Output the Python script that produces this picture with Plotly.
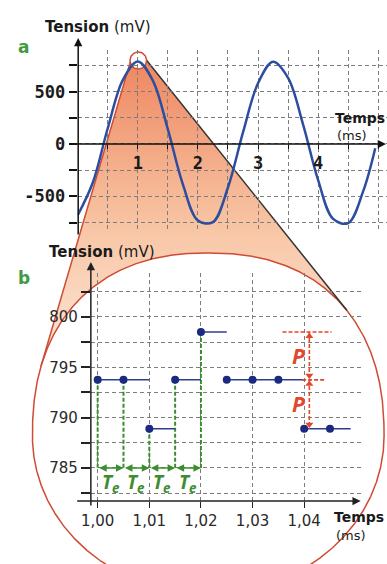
import numpy as np
import plotly.graph_objects as go

W, H = 387, 564

# ---------------- data : panel a (continuous signal) ----------------
time_a_ms = [0.0, 0.25, 0.5, 0.75, 1.0, 1.25, 1.5, 1.75, 2.0, 2.25, 2.5, 2.75,
             3.0, 3.25, 3.5, 3.75, 4.0, 4.25, 4.5, 4.75, 4.95]
tension_a_mv = [-680, -370, 150, 610, 788, 605, 140, -385, -730, -745, -415, 110,
                580, 785, 630, 185, -345, -715, -755, -450, -40]
xticks_a = [0.5, 1, 1.5, 2, 2.5, 3, 3.5, 4, 4.5, 5]
xticklabels_a = ['', '1', '', '2', '', '3', '', '4', '', '']
yticks_a = [-750, -500, -250, 0, 250, 500, 750]
yticklabels_a = ['', '-500', '', '0', '', '500', '']

# ---------------- data : panel b (sampled / quantised) ----------------
sample_t_ms = [1.000, 1.005, 1.010, 1.015, 1.020, 1.025, 1.030, 1.035, 1.040, 1.045]
sample_mv = [793.75, 793.75, 788.9, 793.75, 798.5, 793.75, 793.75, 793.75, 788.9, 788.9]
te_count = 5
xticks_b = [1.00, 1.01, 1.02, 1.03, 1.04]
xticklabels_b = ['1,00', '1,01', '1,02', '1,03', '1,04']
yticks_b = [782.5, 785, 787.5, 790, 792.5, 795, 797.5, 800, 802.5]
yticklabels_b = ['', '785', '', '790', '', '795', '', '800', '']
te_level_mv = 785
q_levels_mv = [788.9, 793.75, 798.5]

# ---------------- colours ----------------
BLUE = '#2d4e9e'
NAVY = '#1b2a80'
GREEN = '#3c8d2f'
RED = '#e2462c'
ELL = '#cf4b32'
GRID = '#7d7d7d'
LABEL_FONT = 'DejaVu Sans'

fig = go.Figure()

# ---------------- decoration : zoom cone + ellipse (pixel space) ----------------
cx, cy, ea, b_top, b_bot, n_top = 203.5, 436.0, 180.5, 183.0, 158.0, 2.3
th = np.linspace(0, 2 * np.pi, 1441)
c, s = np.cos(th), np.sin(th)
ex = np.where(s < 0, cx + ea * np.sign(c) * np.abs(c) ** (2 / n_top), cx + ea * c)
ey = np.where(s < 0, cy + b_top * np.sign(s) * np.abs(s) ** (2 / n_top), cy + b_bot * s)

apex_l = (123.5, 62.0)
apex_r = (140.0, 60.0)
valid = ey > 120
sl = np.where(valid, (ex - apex_l[0]) / (ey - apex_l[1]), np.inf)
sr = np.where(valid, (ex - apex_r[0]) / (ey - apex_r[1]), -np.inf)
il = int(np.argmin(sl))
ir = int(np.argmax(sr))
if il <= ir:
    arc = list(range(il, ir + 1))
else:
    arc = list(range(il, ir - 1, -1))

cone_px_x = [apex_l[0]] + list(ex[arc]) + [apex_r[0]]
cone_px_y = [apex_l[1]] + list(ey[arc]) + [apex_r[1]]

fig.add_trace(go.Scatter(
    x=cone_px_x, y=[H - v for v in cone_px_y], xaxis='x', yaxis='y',
    mode='lines', fill='toself', line=dict(width=0),
    fillgradient=dict(type='vertical', start=H - 370, stop=H - 58,
                      colorscale=[[0, '#fce9de'], [0.45, '#f8c6a5'], [1, '#ee8660']]),
    hoverinfo='skip'))

fig.add_trace(go.Scatter(
    x=ex, y=H - ey, xaxis='x', yaxis='y', mode='lines', fill='toself',
    fillcolor='white', line=dict(color=ELL, width=1.5), hoverinfo='skip'))

fig.add_trace(go.Scatter(
    x=[apex_l[0], ex[il]], y=[H - apex_l[1], H - ey[il]], xaxis='x', yaxis='y',
    mode='lines', line=dict(color=ELL, width=1.5), hoverinfo='skip'))
fig.add_trace(go.Scatter(
    x=[apex_r[0], ex[ir]], y=[H - apex_r[1], H - ey[ir]], xaxis='x', yaxis='y',
    mode='lines', line=dict(color='#333333', width=1.5), hoverinfo='skip'))

ccx, ccy, cr = 131.7, 60.5, 8.5
phi = np.linspace(0, 2 * np.pi, 73)
fig.add_trace(go.Scatter(
    x=ccx + cr * np.cos(phi), y=H - (ccy + cr * np.sin(phi)), xaxis='x', yaxis='y',
    mode='lines', fill='toself', fillcolor='white',
    line=dict(color=ELL, width=1.5), hoverinfo='skip'))

# ---------------- panel a ----------------
fig.add_trace(go.Scatter(
    x=time_a_ms, y=tension_a_mv, xaxis='x2', yaxis='y2', mode='lines',
    line=dict(color=BLUE, width=2.5, shape='spline', smoothing=1.0), hoverinfo='skip'))

# ---------------- panel b ----------------
hold_x, hold_y = [], []
for i, (t, v) in enumerate(zip(sample_t_ms, sample_mv)):
    t_end = sample_t_ms[i + 1] if i + 1 < len(sample_t_ms) else t + 0.004
    hold_x += [t, t_end, None]
    hold_y += [v, v, None]

te_x, te_y = [], []
for t, v in zip(sample_t_ms[:te_count], sample_mv[:te_count]):
    te_x += [t, t, None]
    te_y += [v, te_level_mv, None]
fig.add_trace(go.Scatter(x=te_x, y=te_y, xaxis='x3', yaxis='y3', mode='lines',
                         line=dict(color=GREEN, width=2, dash='4px,2px'), hoverinfo='skip'))

fig.add_trace(go.Scatter(x=hold_x, y=hold_y, xaxis='x3', yaxis='y3', mode='lines',
                         line=dict(color='#2c3e8c', width=1.5), hoverinfo='skip'))
fig.add_trace(go.Scatter(x=sample_t_ms, y=sample_mv, xaxis='x3', yaxis='y3', mode='markers',
                         marker=dict(color=NAVY, size=8), hoverinfo='skip'))

# quantisation step P
p_x = 1.0410
fig.add_trace(go.Scatter(
    x=[1.0358, 1.0453, None, 1.0396, 1.0440, None, p_x, p_x],
    y=[q_levels_mv[2], q_levels_mv[2], None, q_levels_mv[1], q_levels_mv[1], None,
       q_levels_mv[2], q_levels_mv[0]],
    xaxis='x3', yaxis='y3', mode='lines',
    line=dict(color=RED, width=1.6, dash='4px,2px'), hoverinfo='skip'))
off = 0.42
fig.add_trace(go.Scatter(
    x=[p_x] * 4,
    y=[q_levels_mv[2] - off, q_levels_mv[1] + off, q_levels_mv[1] - off, q_levels_mv[0] + off],
    xaxis='x3', yaxis='y3', mode='markers',
    marker=dict(color=RED, size=7,
                symbol=['triangle-up', 'triangle-down', 'triangle-up', 'triangle-down']),
    hoverinfo='skip'))


def px(x):
    return x / W


def py(y):
    return 1 - y / H


annotations = []


def axis_arrow(hx, hy, tx, ty, color='#111111'):
    annotations.append(dict(
        x=px(hx), y=py(hy), xref='paper', yref='paper', ax=tx - hx, ay=ty - hy,
        text='', showarrow=True, arrowhead=2, arrowsize=1.1, arrowwidth=1.5,
        arrowcolor=color, standoff=0, startstandoff=0))


axis_arrow(70, 38, 70, 236)
axis_arrow(387, 144, 68, 144)
axis_arrow(83, 262, 83, 507, '#222222')
axis_arrow(360, 501, 75, 501, '#222222')


def label(x, y, text, size=15, color='#1a1a1a', family=LABEL_FONT, xanchor='center'):
    annotations.append(dict(
        x=px(x), y=py(y), xref='paper', yref='paper', text=text, showarrow=False,
        xanchor=xanchor, yanchor='middle', font=dict(family=family, size=size, color=color)))


label(14, 47, '<b>a</b>', size=17, color='#3f9b3f')
label(14, 278, '<b>b</b>', size=17, color='#3f9b3f')
label(90, 27, '<b>Tension</b> (mV)', size=15)
label(94, 252, '<b>Tension</b> (mV)', size=15)
label(332, 118, '<b>Temps</b>', size=14, xanchor='left')
label(334, 135, '(ms)', size=13, xanchor='left')
label(331, 517, '<b>Temps</b>', size=14, xanchor='left')
label(333, 535, '(ms)', size=13, xanchor='left')

# Te arrows and labels
for i in range(te_count - 1):
    t0, t1 = sample_t_ms[i], sample_t_ms[i + 1]
    annotations.append(dict(
        x=t1, y=te_level_mv, ax=t0, ay=te_level_mv, xref='x3', yref='y3',
        axref='x3', ayref='y3', text='', showarrow=True, arrowhead=2, arrowside='end+start',
        arrowsize=1, arrowwidth=1.5, arrowcolor=GREEN, standoff=0, startstandoff=0))
    annotations.append(dict(
        x=(t0 + t1) / 2, y=te_level_mv - 1.45, xref='x3', yref='y3',
        text='<b><i>T<sub>e</sub></i></b>', showarrow=False,
        font=dict(family='Noto Sans', size=19, color=GREEN)))

# P labels
for lo, hi in [(q_levels_mv[1], q_levels_mv[2]), (q_levels_mv[0], q_levels_mv[1])]:
    annotations.append(dict(
        x=1.0388, y=(lo + hi) / 2, xref='x3', yref='y3', text='<b><i>P</i></b>',
        showarrow=False, font=dict(family='Noto Sans', size=21, color=RED)))

grid = dict(showgrid=True, gridcolor=GRID, gridwidth=1, griddash='4px,3px',
            zeroline=False, showline=False)
mono = dict(family='DejaVu Sans Mono', size=17, color='#1a1a1a', weight='bold')
sans = dict(family=LABEL_FONT, size=15, color='#2a2a2a')

fig.update_layout(
    width=W, height=H, margin=dict(l=0, r=0, t=0, b=0),
    paper_bgcolor='white', plot_bgcolor='rgba(0,0,0,0)', showlegend=False,
    xaxis=dict(domain=[0, 1], range=[0, W], visible=False, fixedrange=True),
    yaxis=dict(domain=[0, 1], range=[0, H], visible=False, fixedrange=True),
    xaxis2=dict(domain=[69.5 / W, 1], range=[0, (W - 69.5) / 61.7], anchor='free',
                position=py(144), tickmode='array', tickvals=xticks_a, ticktext=xticklabels_a,
                ticks='outside', ticklen=4, tickcolor='#111', tickwidth=1.2,
                tickfont=mono, fixedrange=True, **grid),
    yaxis2=dict(domain=[py(232), py(50)], range=[-840, 897], anchor='x2',
                tickmode='array', tickvals=yticks_a, ticktext=yticklabels_a,
                ticks='outside', ticklen=8, tickcolor='#111', tickwidth=1.5,
                tickfont=mono, fixedrange=True, **grid),
    xaxis3=dict(domain=[px(83), px(362)], range=[1 + (83 - 90) / 5300, 1 + (362 - 90) / 5300],
                anchor='y3', tickmode='array', tickvals=xticks_b, ticktext=xticklabels_b,
                ticks='outside', ticklen=6, tickcolor='#222', tickwidth=1.2,
                tickfont=sans, fixedrange=True, **grid),
    yaxis3=dict(domain=[py(501), py(273)], range=[781.72, 804.36], anchor='x3',
                tickmode='array', tickvals=yticks_b, ticktext=yticklabels_b,
                ticks='outside', ticklen=9, tickcolor='#222', tickwidth=1.5,
                tickfont=sans, fixedrange=True, **grid),
    annotations=annotations,
)

fig.write_html("out.html", config={'displayModeBar': False},
               post_script="document.body.style.margin='0px';")
